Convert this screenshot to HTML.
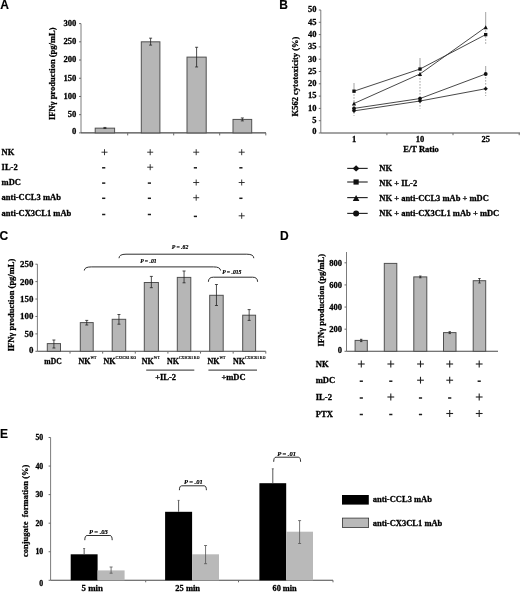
<!DOCTYPE html>
<html><head><meta charset="utf-8"><title>Figure</title>
<style>
html,body{margin:0;padding:0;background:#fff;}
body{width:520px;height:592px;overflow:hidden;font-family:"Liberation Serif",serif;}
svg{display:block;will-change:transform;}
</style></head><body>
<svg width="520" height="592" viewBox="0 0 520 592">
<rect x="0" y="0" width="520" height="592" fill="#ffffff"/>
<text x="0.20" y="8.60" font-family='"Liberation Sans", sans-serif' font-size="12" font-weight="bold" font-style="normal" text-anchor="start" fill="#000" stroke="#000" stroke-width="0.15" >A</text>
<text x="279.20" y="8.60" font-family='"Liberation Sans", sans-serif' font-size="12" font-weight="bold" font-style="normal" text-anchor="start" fill="#000" stroke="#000" stroke-width="0.15" >B</text>
<text x="-0.40" y="239.60" font-family='"Liberation Sans", sans-serif' font-size="12" font-weight="bold" font-style="normal" text-anchor="start" fill="#000" stroke="#000" stroke-width="0.15" >C</text>
<text x="280.10" y="239.70" font-family='"Liberation Sans", sans-serif' font-size="12" font-weight="bold" font-style="normal" text-anchor="start" fill="#000" stroke="#000" stroke-width="0.15" >D</text>
<text x="0.00" y="438.00" font-family='"Liberation Sans", sans-serif' font-size="12" font-weight="bold" font-style="normal" text-anchor="start" fill="#000" stroke="#000" stroke-width="0.15" >E</text>
<line x1="81.00" y1="23.60" x2="81.00" y2="132.90" stroke="#7c7c7c" stroke-width="1" />
<line x1="81.00" y1="132.90" x2="266.00" y2="132.90" stroke="#484848" stroke-width="1.1" />
<line x1="79.00" y1="132.90" x2="81.00" y2="132.90" stroke="#6a6a6a" stroke-width="1" />
<text x="76.40" y="134.30" font-family='"Liberation Serif", serif' font-size="8.6" font-weight="bold" font-style="normal" text-anchor="end" fill="#000" stroke="#000" stroke-width="0.28" >0</text>
<line x1="79.00" y1="114.68" x2="81.00" y2="114.68" stroke="#6a6a6a" stroke-width="1" />
<text x="76.40" y="117.08" font-family='"Liberation Serif", serif' font-size="8.6" font-weight="bold" font-style="normal" text-anchor="end" fill="#000" stroke="#000" stroke-width="0.28" >50</text>
<line x1="79.00" y1="96.47" x2="81.00" y2="96.47" stroke="#6a6a6a" stroke-width="1" />
<text x="76.40" y="98.87" font-family='"Liberation Serif", serif' font-size="8.6" font-weight="bold" font-style="normal" text-anchor="end" fill="#000" stroke="#000" stroke-width="0.28" >100</text>
<line x1="79.00" y1="78.25" x2="81.00" y2="78.25" stroke="#6a6a6a" stroke-width="1" />
<text x="76.40" y="80.65" font-family='"Liberation Serif", serif' font-size="8.6" font-weight="bold" font-style="normal" text-anchor="end" fill="#000" stroke="#000" stroke-width="0.28" >150</text>
<line x1="79.00" y1="60.03" x2="81.00" y2="60.03" stroke="#6a6a6a" stroke-width="1" />
<text x="76.40" y="62.43" font-family='"Liberation Serif", serif' font-size="8.6" font-weight="bold" font-style="normal" text-anchor="end" fill="#000" stroke="#000" stroke-width="0.28" >200</text>
<line x1="79.00" y1="41.82" x2="81.00" y2="41.82" stroke="#6a6a6a" stroke-width="1" />
<text x="76.40" y="44.22" font-family='"Liberation Serif", serif' font-size="8.6" font-weight="bold" font-style="normal" text-anchor="end" fill="#000" stroke="#000" stroke-width="0.28" >250</text>
<line x1="79.00" y1="23.60" x2="81.00" y2="23.60" stroke="#6a6a6a" stroke-width="1" />
<text x="76.40" y="26.00" font-family='"Liberation Serif", serif' font-size="8.6" font-weight="bold" font-style="normal" text-anchor="end" fill="#000" stroke="#000" stroke-width="0.28" >300</text>
<line x1="127.70" y1="132.90" x2="127.70" y2="135.40" stroke="#6a6a6a" stroke-width="1" />
<line x1="173.70" y1="132.90" x2="173.70" y2="135.40" stroke="#6a6a6a" stroke-width="1" />
<line x1="219.70" y1="132.90" x2="219.70" y2="135.40" stroke="#6a6a6a" stroke-width="1" />
<line x1="265.80" y1="132.90" x2="265.80" y2="135.40" stroke="#6a6a6a" stroke-width="1" />
<text x="0.00" y="0.00" font-family='"Liberation Serif", serif' font-size="8.5" font-weight="bold" font-style="normal" text-anchor="middle" fill="#000" stroke="#000" stroke-width="0.28" transform="translate(55.20,73.80) rotate(-90)">IFNγ production (pg/mL)</text>
<rect x="95.20" y="128.16" width="19.40" height="4.74" fill="#b6b6b6" stroke="#505050" stroke-width="1"/>
<line x1="104.90" y1="127.44" x2="104.90" y2="128.53" stroke="#222" stroke-width="0.8" />
<line x1="103.40" y1="127.44" x2="106.40" y2="127.44" stroke="#222" stroke-width="0.8" />
<line x1="103.40" y1="128.53" x2="106.40" y2="128.53" stroke="#222" stroke-width="0.8" />
<rect x="141.30" y="41.82" width="18.60" height="91.08" fill="#b6b6b6" stroke="#505050" stroke-width="1"/>
<line x1="150.60" y1="38.17" x2="150.60" y2="45.10" stroke="#222" stroke-width="0.8" />
<line x1="149.10" y1="38.17" x2="152.10" y2="38.17" stroke="#222" stroke-width="0.8" />
<line x1="149.10" y1="45.10" x2="152.10" y2="45.10" stroke="#222" stroke-width="0.8" />
<rect x="187.00" y="57.12" width="19.20" height="75.78" fill="#b6b6b6" stroke="#505050" stroke-width="1"/>
<line x1="196.60" y1="47.28" x2="196.60" y2="66.96" stroke="#222" stroke-width="0.8" />
<line x1="195.10" y1="47.28" x2="198.10" y2="47.28" stroke="#222" stroke-width="0.8" />
<line x1="195.10" y1="66.96" x2="198.10" y2="66.96" stroke="#222" stroke-width="0.8" />
<rect x="233.00" y="119.42" width="18.70" height="13.48" fill="#b6b6b6" stroke="#505050" stroke-width="1"/>
<line x1="242.35" y1="117.96" x2="242.35" y2="120.88" stroke="#222" stroke-width="0.8" />
<line x1="240.85" y1="117.96" x2="243.85" y2="117.96" stroke="#222" stroke-width="0.8" />
<line x1="240.85" y1="120.88" x2="243.85" y2="120.88" stroke="#222" stroke-width="0.8" />
<text x="1.60" y="154.70" font-family='"Liberation Serif", serif' font-size="8.5" font-weight="bold" font-style="normal" text-anchor="start" fill="#000" stroke="#000" stroke-width="0.28" >NK</text>
<line x1="101.50" y1="152.20" x2="107.50" y2="152.20" stroke="#222" stroke-width="0.9" />
<line x1="104.50" y1="149.20" x2="104.50" y2="155.20" stroke="#222" stroke-width="0.9" />
<line x1="147.20" y1="152.20" x2="153.20" y2="152.20" stroke="#222" stroke-width="0.9" />
<line x1="150.20" y1="149.20" x2="150.20" y2="155.20" stroke="#222" stroke-width="0.9" />
<line x1="193.20" y1="152.20" x2="199.20" y2="152.20" stroke="#222" stroke-width="0.9" />
<line x1="196.20" y1="149.20" x2="196.20" y2="155.20" stroke="#222" stroke-width="0.9" />
<line x1="238.70" y1="152.20" x2="244.70" y2="152.20" stroke="#222" stroke-width="0.9" />
<line x1="241.70" y1="149.20" x2="241.70" y2="155.20" stroke="#222" stroke-width="0.9" />
<text x="1.60" y="169.70" font-family='"Liberation Serif", serif' font-size="8.5" font-weight="bold" font-style="normal" text-anchor="start" fill="#000" stroke="#000" stroke-width="0.28" >IL-2</text>
<line x1="102.10" y1="167.80" x2="105.30" y2="167.80" stroke="#1a1a1a" stroke-width="1.5" />
<line x1="147.20" y1="167.20" x2="153.20" y2="167.20" stroke="#222" stroke-width="0.9" />
<line x1="150.20" y1="164.20" x2="150.20" y2="170.20" stroke="#222" stroke-width="0.9" />
<line x1="193.80" y1="167.80" x2="197.00" y2="167.80" stroke="#1a1a1a" stroke-width="1.5" />
<line x1="239.30" y1="167.80" x2="242.50" y2="167.80" stroke="#1a1a1a" stroke-width="1.5" />
<text x="1.60" y="185.00" font-family='"Liberation Serif", serif' font-size="8.5" font-weight="bold" font-style="normal" text-anchor="start" fill="#000" stroke="#000" stroke-width="0.28" >mDC</text>
<line x1="102.10" y1="183.10" x2="105.30" y2="183.10" stroke="#1a1a1a" stroke-width="1.5" />
<line x1="147.80" y1="183.10" x2="151.00" y2="183.10" stroke="#1a1a1a" stroke-width="1.5" />
<line x1="193.20" y1="182.50" x2="199.20" y2="182.50" stroke="#222" stroke-width="0.9" />
<line x1="196.20" y1="179.50" x2="196.20" y2="185.50" stroke="#222" stroke-width="0.9" />
<line x1="238.70" y1="182.50" x2="244.70" y2="182.50" stroke="#222" stroke-width="0.9" />
<line x1="241.70" y1="179.50" x2="241.70" y2="185.50" stroke="#222" stroke-width="0.9" />
<text x="1.60" y="200.20" font-family='"Liberation Serif", serif' font-size="8.5" font-weight="bold" font-style="normal" text-anchor="start" fill="#000" stroke="#000" stroke-width="0.28" >anti-CCL3 mAb</text>
<line x1="102.10" y1="198.30" x2="105.30" y2="198.30" stroke="#1a1a1a" stroke-width="1.5" />
<line x1="147.80" y1="198.30" x2="151.00" y2="198.30" stroke="#1a1a1a" stroke-width="1.5" />
<line x1="193.20" y1="197.70" x2="199.20" y2="197.70" stroke="#222" stroke-width="0.9" />
<line x1="196.20" y1="194.70" x2="196.20" y2="200.70" stroke="#222" stroke-width="0.9" />
<line x1="239.30" y1="198.30" x2="242.50" y2="198.30" stroke="#1a1a1a" stroke-width="1.5" />
<text x="1.60" y="215.90" font-family='"Liberation Serif", serif' font-size="8.5" font-weight="bold" font-style="normal" text-anchor="start" fill="#000" stroke="#000" stroke-width="0.28" >anti-CX3CL1 mAb</text>
<line x1="102.10" y1="214.50" x2="105.30" y2="214.50" stroke="#1a1a1a" stroke-width="1.5" />
<line x1="147.80" y1="214.50" x2="151.00" y2="214.50" stroke="#1a1a1a" stroke-width="1.5" />
<line x1="193.80" y1="216.40" x2="197.00" y2="216.40" stroke="#1a1a1a" stroke-width="1.5" />
<line x1="238.70" y1="215.80" x2="244.70" y2="215.80" stroke="#222" stroke-width="0.9" />
<line x1="241.70" y1="212.80" x2="241.70" y2="218.80" stroke="#222" stroke-width="0.9" />
<line x1="320.80" y1="10.00" x2="320.80" y2="133.00" stroke="#7c7c7c" stroke-width="1" />
<line x1="320.80" y1="133.00" x2="520.00" y2="133.00" stroke="#484848" stroke-width="1.2" />
<line x1="318.80" y1="133.00" x2="320.80" y2="133.00" stroke="#6a6a6a" stroke-width="1" />
<text x="316.50" y="134.10" font-family='"Liberation Serif", serif' font-size="8.5" font-weight="bold" font-style="normal" text-anchor="end" fill="#000" stroke="#000" stroke-width="0.28" >0</text>
<line x1="318.80" y1="120.70" x2="320.80" y2="120.70" stroke="#6a6a6a" stroke-width="1" />
<text x="316.50" y="123.00" font-family='"Liberation Serif", serif' font-size="8.5" font-weight="bold" font-style="normal" text-anchor="end" fill="#000" stroke="#000" stroke-width="0.28" >5</text>
<line x1="318.80" y1="108.40" x2="320.80" y2="108.40" stroke="#6a6a6a" stroke-width="1" />
<text x="316.50" y="110.70" font-family='"Liberation Serif", serif' font-size="8.5" font-weight="bold" font-style="normal" text-anchor="end" fill="#000" stroke="#000" stroke-width="0.28" >10</text>
<line x1="318.80" y1="96.10" x2="320.80" y2="96.10" stroke="#6a6a6a" stroke-width="1" />
<text x="316.50" y="98.40" font-family='"Liberation Serif", serif' font-size="8.5" font-weight="bold" font-style="normal" text-anchor="end" fill="#000" stroke="#000" stroke-width="0.28" >15</text>
<line x1="318.80" y1="83.80" x2="320.80" y2="83.80" stroke="#6a6a6a" stroke-width="1" />
<text x="316.50" y="86.10" font-family='"Liberation Serif", serif' font-size="8.5" font-weight="bold" font-style="normal" text-anchor="end" fill="#000" stroke="#000" stroke-width="0.28" >20</text>
<line x1="318.80" y1="71.50" x2="320.80" y2="71.50" stroke="#6a6a6a" stroke-width="1" />
<text x="316.50" y="73.80" font-family='"Liberation Serif", serif' font-size="8.5" font-weight="bold" font-style="normal" text-anchor="end" fill="#000" stroke="#000" stroke-width="0.28" >25</text>
<line x1="318.80" y1="59.20" x2="320.80" y2="59.20" stroke="#6a6a6a" stroke-width="1" />
<text x="316.50" y="61.50" font-family='"Liberation Serif", serif' font-size="8.5" font-weight="bold" font-style="normal" text-anchor="end" fill="#000" stroke="#000" stroke-width="0.28" >30</text>
<line x1="318.80" y1="46.90" x2="320.80" y2="46.90" stroke="#6a6a6a" stroke-width="1" />
<text x="316.50" y="49.20" font-family='"Liberation Serif", serif' font-size="8.5" font-weight="bold" font-style="normal" text-anchor="end" fill="#000" stroke="#000" stroke-width="0.28" >35</text>
<line x1="318.80" y1="34.60" x2="320.80" y2="34.60" stroke="#6a6a6a" stroke-width="1" />
<text x="316.50" y="36.90" font-family='"Liberation Serif", serif' font-size="8.5" font-weight="bold" font-style="normal" text-anchor="end" fill="#000" stroke="#000" stroke-width="0.28" >40</text>
<line x1="318.80" y1="22.30" x2="320.80" y2="22.30" stroke="#6a6a6a" stroke-width="1" />
<text x="316.50" y="24.60" font-family='"Liberation Serif", serif' font-size="8.5" font-weight="bold" font-style="normal" text-anchor="end" fill="#000" stroke="#000" stroke-width="0.28" >45</text>
<line x1="318.80" y1="10.00" x2="320.80" y2="10.00" stroke="#6a6a6a" stroke-width="1" />
<text x="316.50" y="12.30" font-family='"Liberation Serif", serif' font-size="8.5" font-weight="bold" font-style="normal" text-anchor="end" fill="#000" stroke="#000" stroke-width="0.28" >50</text>
<line x1="386.90" y1="133.00" x2="386.90" y2="135.20" stroke="#6a6a6a" stroke-width="1" />
<line x1="453.00" y1="133.00" x2="453.00" y2="135.20" stroke="#6a6a6a" stroke-width="1" />
<line x1="519.20" y1="133.00" x2="519.20" y2="135.20" stroke="#6a6a6a" stroke-width="1" />
<text x="0.00" y="0.00" font-family='"Liberation Serif", serif' font-size="8.5" font-weight="bold" font-style="normal" text-anchor="middle" fill="#000" stroke="#000" stroke-width="0.28" transform="translate(298.20,76.50) rotate(-90)">K562 cytotoxicity (%)</text>
<text x="354.00" y="141.50" font-family='"Liberation Serif", serif' font-size="8.5" font-weight="bold" font-style="normal" text-anchor="middle" fill="#000" stroke="#000" stroke-width="0.28" >1</text>
<text x="420.00" y="141.50" font-family='"Liberation Serif", serif' font-size="8.5" font-weight="bold" font-style="normal" text-anchor="middle" fill="#000" stroke="#000" stroke-width="0.28" >10</text>
<text x="485.70" y="141.50" font-family='"Liberation Serif", serif' font-size="8.5" font-weight="bold" font-style="normal" text-anchor="middle" fill="#000" stroke="#000" stroke-width="0.28" >25</text>
<text x="421.00" y="151.50" font-family='"Liberation Serif", serif' font-size="8.5" font-weight="bold" font-style="normal" text-anchor="middle" fill="#000" stroke="#000" stroke-width="0.28" >E/T Ratio</text>
<line x1="354.00" y1="83.00" x2="354.00" y2="91.20" stroke="#8a8a8a" stroke-width="0.8" />
<line x1="354.00" y1="91.20" x2="354.00" y2="116.00" stroke="#8a8a8a" stroke-width="0.8" stroke-dasharray="1.6 1.4"/>
<line x1="420.00" y1="58.00" x2="420.00" y2="69.00" stroke="#8a8a8a" stroke-width="0.8" />
<line x1="420.00" y1="69.00" x2="420.00" y2="108.60" stroke="#8a8a8a" stroke-width="0.8" stroke-dasharray="1.6 1.4"/>
<line x1="485.70" y1="12.00" x2="485.70" y2="27.20" stroke="#8a8a8a" stroke-width="0.8" />
<line x1="485.70" y1="27.20" x2="485.70" y2="44.60" stroke="#8a8a8a" stroke-width="0.8" stroke-dasharray="1.6 1.4"/>
<line x1="485.70" y1="66.00" x2="485.70" y2="74.00" stroke="#8a8a8a" stroke-width="0.8" />
<line x1="485.70" y1="74.00" x2="485.70" y2="96.00" stroke="#8a8a8a" stroke-width="0.8" stroke-dasharray="1.6 1.4"/>
<polyline fill="none" stroke="#333" stroke-width="0.9" points="354.00,110.86 420.00,101.02 485.70,88.72"/>
<path d="M354.00,108.81 L356.18,110.86 L354.00,112.91 L351.82,110.86 Z" fill="#111"/>
<path d="M420.00,98.97 L422.18,101.02 L420.00,103.07 L417.82,101.02 Z" fill="#111"/>
<path d="M485.70,86.67 L487.88,88.72 L485.70,90.77 L483.52,88.72 Z" fill="#111"/>
<polyline fill="none" stroke="#333" stroke-width="0.9" points="354.00,91.18 420.00,69.04 485.70,34.60"/>
<rect x="352.34" y="89.52" width="3.33" height="3.33" fill="#111"/>
<rect x="418.34" y="67.38" width="3.33" height="3.33" fill="#111"/>
<rect x="484.04" y="32.94" width="3.33" height="3.33" fill="#111"/>
<polyline fill="none" stroke="#333" stroke-width="0.9" points="354.00,103.48 420.00,73.96 485.70,27.22"/>
<path d="M354.00,101.52 L356.11,105.42 L351.89,105.42 Z" fill="#111"/>
<path d="M420.00,72.00 L422.11,75.90 L417.89,75.90 Z" fill="#111"/>
<path d="M485.70,25.26 L487.81,29.16 L483.59,29.16 Z" fill="#111"/>
<polyline fill="none" stroke="#333" stroke-width="0.9" points="354.00,108.40 420.00,98.56 485.70,73.96"/>
<circle cx="354.00" cy="108.40" r="1.92" fill="#111"/>
<circle cx="420.00" cy="98.56" r="1.92" fill="#111"/>
<circle cx="485.70" cy="73.96" r="1.92" fill="#111"/>
<line x1="347.20" y1="168.40" x2="367.70" y2="168.40" stroke="#2a2a2a" stroke-width="1.15" />
<path d="M356.10,165.20 L359.50,168.40 L356.10,171.60 L352.70,168.40 Z" fill="#111"/>
<text x="379.30" y="170.50" font-family='"Liberation Serif", serif' font-size="8.5" font-weight="bold" font-style="normal" text-anchor="start" fill="#000" stroke="#000" stroke-width="0.28" >NK</text>
<line x1="347.20" y1="182.00" x2="367.70" y2="182.00" stroke="#2a2a2a" stroke-width="1.15" />
<rect x="353.50" y="179.40" width="5.20" height="5.20" fill="#111"/>
<text x="379.30" y="185.90" font-family='"Liberation Serif", serif' font-size="8.5" font-weight="bold" font-style="normal" text-anchor="start" fill="#000" stroke="#000" stroke-width="0.28" >NK + IL-2</text>
<line x1="347.20" y1="197.60" x2="367.70" y2="197.60" stroke="#2a2a2a" stroke-width="1.15" />
<path d="M356.10,195.00 L359.40,201.10 L352.80,201.10 Z" fill="#111"/>
<text x="379.30" y="200.70" font-family='"Liberation Serif", serif' font-size="8.5" font-weight="bold" font-style="normal" text-anchor="start" fill="#000" stroke="#000" stroke-width="0.28" >NK + anti-CCL3 mAb + mDC</text>
<line x1="347.20" y1="213.40" x2="367.70" y2="213.40" stroke="#2a2a2a" stroke-width="1.15" />
<circle cx="356.10" cy="213.40" r="3.00" fill="#111"/>
<text x="379.30" y="215.70" font-family='"Liberation Serif", serif' font-size="8.5" font-weight="bold" font-style="normal" text-anchor="start" fill="#000" stroke="#000" stroke-width="0.28" >NK + anti-CX3CL1 mAb + mDC</text>
<line x1="37.40" y1="264.20" x2="37.40" y2="351.30" stroke="#7c7c7c" stroke-width="1" />
<line x1="37.40" y1="351.30" x2="265.80" y2="351.30" stroke="#484848" stroke-width="1.1" />
<line x1="265.80" y1="351.30" x2="265.80" y2="353.60" stroke="#6a6a6a" stroke-width="1" />
<line x1="35.40" y1="351.30" x2="37.40" y2="351.30" stroke="#6a6a6a" stroke-width="1" />
<text x="33.40" y="352.60" font-family='"Liberation Serif", serif' font-size="8.9" font-weight="bold" font-style="normal" text-anchor="end" fill="#000" stroke="#000" stroke-width="0.28" >0</text>
<line x1="35.40" y1="333.88" x2="37.40" y2="333.88" stroke="#6a6a6a" stroke-width="1" />
<text x="33.40" y="336.78" font-family='"Liberation Serif", serif' font-size="8.9" font-weight="bold" font-style="normal" text-anchor="end" fill="#000" stroke="#000" stroke-width="0.28" >50</text>
<line x1="35.40" y1="316.46" x2="37.40" y2="316.46" stroke="#6a6a6a" stroke-width="1" />
<text x="33.40" y="319.36" font-family='"Liberation Serif", serif' font-size="8.9" font-weight="bold" font-style="normal" text-anchor="end" fill="#000" stroke="#000" stroke-width="0.28" >100</text>
<line x1="35.40" y1="299.04" x2="37.40" y2="299.04" stroke="#6a6a6a" stroke-width="1" />
<text x="33.40" y="301.94" font-family='"Liberation Serif", serif' font-size="8.9" font-weight="bold" font-style="normal" text-anchor="end" fill="#000" stroke="#000" stroke-width="0.28" >150</text>
<line x1="35.40" y1="281.62" x2="37.40" y2="281.62" stroke="#6a6a6a" stroke-width="1" />
<text x="33.40" y="284.52" font-family='"Liberation Serif", serif' font-size="8.9" font-weight="bold" font-style="normal" text-anchor="end" fill="#000" stroke="#000" stroke-width="0.28" >200</text>
<line x1="35.40" y1="264.20" x2="37.40" y2="264.20" stroke="#6a6a6a" stroke-width="1" />
<text x="33.40" y="267.10" font-family='"Liberation Serif", serif' font-size="8.9" font-weight="bold" font-style="normal" text-anchor="end" fill="#000" stroke="#000" stroke-width="0.28" >250</text>
<line x1="70.03" y1="351.30" x2="70.03" y2="353.60" stroke="#6a6a6a" stroke-width="1" />
<line x1="102.66" y1="351.30" x2="102.66" y2="353.60" stroke="#6a6a6a" stroke-width="1" />
<line x1="135.29" y1="351.30" x2="135.29" y2="353.60" stroke="#6a6a6a" stroke-width="1" />
<line x1="167.91" y1="351.30" x2="167.91" y2="353.60" stroke="#6a6a6a" stroke-width="1" />
<line x1="200.54" y1="351.30" x2="200.54" y2="353.60" stroke="#6a6a6a" stroke-width="1" />
<line x1="233.17" y1="351.30" x2="233.17" y2="353.60" stroke="#6a6a6a" stroke-width="1" />
<text x="0.00" y="0.00" font-family='"Liberation Serif", serif' font-size="8.5" font-weight="bold" font-style="normal" text-anchor="middle" fill="#000" stroke="#000" stroke-width="0.28" transform="translate(13.60,305.00) rotate(-90)">IFNγ production (pg/mL)</text>
<rect x="47.30" y="343.60" width="13.20" height="7.70" fill="#b6b6b6" stroke="#505050" stroke-width="1"/>
<line x1="53.90" y1="340.00" x2="53.90" y2="348.00" stroke="#222" stroke-width="0.8" />
<line x1="52.40" y1="340.00" x2="55.40" y2="340.00" stroke="#222" stroke-width="0.8" />
<line x1="52.40" y1="348.00" x2="55.40" y2="348.00" stroke="#222" stroke-width="0.8" />
<rect x="80.30" y="322.60" width="12.90" height="28.70" fill="#b6b6b6" stroke="#505050" stroke-width="1"/>
<line x1="86.75" y1="320.40" x2="86.75" y2="325.00" stroke="#222" stroke-width="0.8" />
<line x1="85.25" y1="320.40" x2="88.25" y2="320.40" stroke="#222" stroke-width="0.8" />
<line x1="85.25" y1="325.00" x2="88.25" y2="325.00" stroke="#222" stroke-width="0.8" />
<rect x="112.20" y="319.30" width="13.50" height="32.00" fill="#b6b6b6" stroke="#505050" stroke-width="1"/>
<line x1="118.95" y1="314.50" x2="118.95" y2="324.20" stroke="#222" stroke-width="0.8" />
<line x1="117.45" y1="314.50" x2="120.45" y2="314.50" stroke="#222" stroke-width="0.8" />
<line x1="117.45" y1="324.20" x2="120.45" y2="324.20" stroke="#222" stroke-width="0.8" />
<rect x="144.30" y="282.50" width="14.10" height="68.80" fill="#b6b6b6" stroke="#505050" stroke-width="1"/>
<line x1="151.35" y1="276.40" x2="151.35" y2="287.70" stroke="#222" stroke-width="0.8" />
<line x1="149.85" y1="276.40" x2="152.85" y2="276.40" stroke="#222" stroke-width="0.8" />
<line x1="149.85" y1="287.70" x2="152.85" y2="287.70" stroke="#222" stroke-width="0.8" />
<rect x="177.30" y="277.40" width="13.50" height="73.90" fill="#b6b6b6" stroke="#505050" stroke-width="1"/>
<line x1="184.05" y1="271.00" x2="184.05" y2="282.80" stroke="#222" stroke-width="0.8" />
<line x1="182.55" y1="271.00" x2="185.55" y2="271.00" stroke="#222" stroke-width="0.8" />
<line x1="182.55" y1="282.80" x2="185.55" y2="282.80" stroke="#222" stroke-width="0.8" />
<rect x="209.70" y="295.30" width="13.50" height="56.00" fill="#b6b6b6" stroke="#505050" stroke-width="1"/>
<line x1="216.45" y1="284.50" x2="216.45" y2="305.50" stroke="#222" stroke-width="0.8" />
<line x1="214.95" y1="284.50" x2="217.95" y2="284.50" stroke="#222" stroke-width="0.8" />
<line x1="214.95" y1="305.50" x2="217.95" y2="305.50" stroke="#222" stroke-width="0.8" />
<rect x="242.70" y="315.20" width="12.90" height="36.10" fill="#b6b6b6" stroke="#505050" stroke-width="1"/>
<line x1="249.15" y1="309.60" x2="249.15" y2="320.40" stroke="#222" stroke-width="0.8" />
<line x1="247.65" y1="309.60" x2="250.65" y2="309.60" stroke="#222" stroke-width="0.8" />
<line x1="247.65" y1="320.40" x2="250.65" y2="320.40" stroke="#222" stroke-width="0.8" />
<text x="53.00" y="364.40" font-family='"Liberation Serif", serif' font-size="7.6" font-weight="bold" font-style="normal" text-anchor="middle" fill="#000" stroke="#000" stroke-width="0.28" >mDC</text>
<text x="78.40" y="364.40" font-family='"Liberation Serif", serif' font-size="8" font-weight="bold" fill="#000" stroke="#000" stroke-width="0.28">NK<tspan stroke-width="0.12"  font-size="3.6" dy="-5.0">WT</tspan></text>
<text x="103.60" y="364.40" font-family='"Liberation Serif", serif' font-size="8" font-weight="bold" fill="#000" stroke="#000" stroke-width="0.28">NK<tspan stroke-width="0.12"  font-size="3.6" dy="-5.0">CX3CR1 KO</tspan></text>
<text x="141.80" y="364.40" font-family='"Liberation Serif", serif' font-size="8" font-weight="bold" fill="#000" stroke="#000" stroke-width="0.28">NK<tspan stroke-width="0.12"  font-size="3.6" dy="-5.0">WT</tspan></text>
<text x="167.00" y="364.40" font-family='"Liberation Serif", serif' font-size="8" font-weight="bold" fill="#000" stroke="#000" stroke-width="0.28">NK<tspan stroke-width="0.12"  font-size="3.6" dy="-5.0">CX3CR1 KO</tspan></text>
<text x="207.50" y="364.40" font-family='"Liberation Serif", serif' font-size="8" font-weight="bold" fill="#000" stroke="#000" stroke-width="0.28">NK<tspan stroke-width="0.12"  font-size="3.6" dy="-5.0">WT</tspan></text>
<text x="233.00" y="364.40" font-family='"Liberation Serif", serif' font-size="8" font-weight="bold" fill="#000" stroke="#000" stroke-width="0.28">NK<tspan stroke-width="0.12"  font-size="3.6" dy="-5.0">CX3CR1 KO</tspan></text>
<line x1="146.20" y1="370.10" x2="194.30" y2="370.10" stroke="#2a2a2a" stroke-width="1.0" />
<line x1="208.40" y1="370.10" x2="257.00" y2="370.10" stroke="#2a2a2a" stroke-width="1.0" />
<text x="165.60" y="380.20" font-family='"Liberation Serif", serif' font-size="8.5" font-weight="bold" font-style="normal" text-anchor="middle" fill="#000" stroke="#000" stroke-width="0.28" >+IL-2</text>
<text x="233.50" y="380.20" font-family='"Liberation Serif", serif' font-size="8.5" font-weight="bold" font-style="normal" text-anchor="middle" fill="#000" stroke="#000" stroke-width="0.28" >+mDC</text>
<path d="M84.30,270.50 Q84.30,266.90 91.30,266.90 L213.50,266.90 Q220.50,266.90 220.50,270.50" fill="none" stroke="#2e2e2e" stroke-width="1.0"/>
<path d="M119.00,258.20 Q119.00,254.20 126.00,254.20 L246.80,254.20 Q253.80,254.20 253.80,258.20" fill="none" stroke="#2e2e2e" stroke-width="1.0"/>
<path d="M208.40,281.80 Q208.40,277.20 213.40,277.20 L252.60,277.20 Q257.60,277.20 257.60,281.80" fill="none" stroke="#2e2e2e" stroke-width="1.0"/>
<text x="148.40" y="262.90" font-family='"Liberation Serif", serif' font-size="5.7" font-weight="bold" font-style="italic" text-anchor="middle" fill="#000" stroke="#000" stroke-width="0.18" >P = .01</text>
<text x="180.00" y="249.10" font-family='"Liberation Serif", serif' font-size="5.7" font-weight="bold" font-style="italic" text-anchor="middle" fill="#000" stroke="#000" stroke-width="0.18" >P = .62</text>
<text x="231.80" y="274.00" font-family='"Liberation Serif", serif' font-size="5.7" font-weight="bold" font-style="italic" text-anchor="middle" fill="#000" stroke="#000" stroke-width="0.18" >P = .015</text>
<line x1="346.50" y1="252.00" x2="346.50" y2="351.30" stroke="#7c7c7c" stroke-width="1" />
<line x1="346.50" y1="351.30" x2="498.00" y2="351.30" stroke="#484848" stroke-width="1.1" />
<line x1="344.50" y1="351.30" x2="346.50" y2="351.30" stroke="#6a6a6a" stroke-width="1" />
<text x="342.00" y="352.60" font-family='"Liberation Serif", serif' font-size="8.5" font-weight="bold" font-style="normal" text-anchor="end" fill="#000" stroke="#000" stroke-width="0.28" >0</text>
<line x1="344.50" y1="329.18" x2="346.50" y2="329.18" stroke="#6a6a6a" stroke-width="1" />
<text x="342.00" y="331.88" font-family='"Liberation Serif", serif' font-size="8.5" font-weight="bold" font-style="normal" text-anchor="end" fill="#000" stroke="#000" stroke-width="0.28" >200</text>
<line x1="344.50" y1="307.05" x2="346.50" y2="307.05" stroke="#6a6a6a" stroke-width="1" />
<text x="342.00" y="309.75" font-family='"Liberation Serif", serif' font-size="8.5" font-weight="bold" font-style="normal" text-anchor="end" fill="#000" stroke="#000" stroke-width="0.28" >400</text>
<line x1="344.50" y1="284.93" x2="346.50" y2="284.93" stroke="#6a6a6a" stroke-width="1" />
<text x="342.00" y="287.62" font-family='"Liberation Serif", serif' font-size="8.5" font-weight="bold" font-style="normal" text-anchor="end" fill="#000" stroke="#000" stroke-width="0.28" >600</text>
<line x1="344.50" y1="262.80" x2="346.50" y2="262.80" stroke="#6a6a6a" stroke-width="1" />
<text x="342.00" y="265.50" font-family='"Liberation Serif", serif' font-size="8.5" font-weight="bold" font-style="normal" text-anchor="end" fill="#000" stroke="#000" stroke-width="0.28" >800</text>
<text x="0.00" y="0.00" font-family='"Liberation Serif", serif' font-size="8.5" font-weight="bold" font-style="normal" text-anchor="middle" fill="#000" stroke="#000" stroke-width="0.28" transform="translate(323.90,300.20) rotate(-90)">IFNγ production (pg/mL)</text>
<rect x="355.10" y="340.40" width="12.20" height="10.90" fill="#b6b6b6" stroke="#505050" stroke-width="1"/>
<line x1="361.20" y1="339.30" x2="361.20" y2="341.60" stroke="#222" stroke-width="0.8" />
<line x1="360.00" y1="339.30" x2="362.40" y2="339.30" stroke="#222" stroke-width="0.8" />
<line x1="360.00" y1="341.60" x2="362.40" y2="341.60" stroke="#222" stroke-width="0.8" />
<rect x="384.30" y="263.40" width="12.50" height="87.90" fill="#b6b6b6" stroke="#505050" stroke-width="1"/>
<rect x="413.80" y="276.90" width="13.00" height="74.40" fill="#b6b6b6" stroke="#505050" stroke-width="1"/>
<line x1="420.30" y1="276.00" x2="420.30" y2="277.80" stroke="#222" stroke-width="0.8" />
<line x1="419.10" y1="276.00" x2="421.50" y2="276.00" stroke="#222" stroke-width="0.8" />
<line x1="419.10" y1="277.80" x2="421.50" y2="277.80" stroke="#222" stroke-width="0.8" />
<rect x="443.50" y="332.60" width="12.50" height="18.70" fill="#b6b6b6" stroke="#505050" stroke-width="1"/>
<line x1="449.75" y1="331.70" x2="449.75" y2="333.60" stroke="#222" stroke-width="0.8" />
<line x1="448.55" y1="331.70" x2="450.95" y2="331.70" stroke="#222" stroke-width="0.8" />
<line x1="448.55" y1="333.60" x2="450.95" y2="333.60" stroke="#222" stroke-width="0.8" />
<rect x="473.20" y="280.70" width="12.50" height="70.60" fill="#b6b6b6" stroke="#505050" stroke-width="1"/>
<line x1="479.45" y1="278.50" x2="479.45" y2="283.00" stroke="#222" stroke-width="0.8" />
<line x1="478.25" y1="278.50" x2="480.65" y2="278.50" stroke="#222" stroke-width="0.8" />
<line x1="478.25" y1="283.00" x2="480.65" y2="283.00" stroke="#222" stroke-width="0.8" />
<text x="315.70" y="367.20" font-family='"Liberation Serif", serif' font-size="8.6" font-weight="bold" font-style="normal" text-anchor="start" fill="#000" stroke="#000" stroke-width="0.28" >NK</text>
<line x1="357.90" y1="364.00" x2="364.70" y2="364.00" stroke="#222" stroke-width="1.1" />
<line x1="361.30" y1="360.60" x2="361.30" y2="367.40" stroke="#222" stroke-width="1.1" />
<line x1="387.40" y1="364.00" x2="394.20" y2="364.00" stroke="#222" stroke-width="1.1" />
<line x1="390.80" y1="360.60" x2="390.80" y2="367.40" stroke="#222" stroke-width="1.1" />
<line x1="417.10" y1="364.00" x2="423.90" y2="364.00" stroke="#222" stroke-width="1.1" />
<line x1="420.50" y1="360.60" x2="420.50" y2="367.40" stroke="#222" stroke-width="1.1" />
<line x1="446.30" y1="364.00" x2="453.10" y2="364.00" stroke="#222" stroke-width="1.1" />
<line x1="449.70" y1="360.60" x2="449.70" y2="367.40" stroke="#222" stroke-width="1.1" />
<line x1="475.80" y1="364.00" x2="482.60" y2="364.00" stroke="#222" stroke-width="1.1" />
<line x1="479.20" y1="360.60" x2="479.20" y2="367.40" stroke="#222" stroke-width="1.1" />
<text x="315.70" y="383.40" font-family='"Liberation Serif", serif' font-size="8.6" font-weight="bold" font-style="normal" text-anchor="start" fill="#000" stroke="#000" stroke-width="0.28" >mDC</text>
<line x1="359.70" y1="381.20" x2="362.90" y2="381.20" stroke="#1a1a1a" stroke-width="1.5" />
<line x1="389.20" y1="381.20" x2="392.40" y2="381.20" stroke="#1a1a1a" stroke-width="1.5" />
<line x1="417.10" y1="380.20" x2="423.90" y2="380.20" stroke="#222" stroke-width="1.1" />
<line x1="420.50" y1="376.80" x2="420.50" y2="383.60" stroke="#222" stroke-width="1.1" />
<line x1="446.30" y1="380.20" x2="453.10" y2="380.20" stroke="#222" stroke-width="1.1" />
<line x1="449.70" y1="376.80" x2="449.70" y2="383.60" stroke="#222" stroke-width="1.1" />
<line x1="477.60" y1="381.20" x2="480.80" y2="381.20" stroke="#1a1a1a" stroke-width="1.5" />
<text x="315.70" y="400.20" font-family='"Liberation Serif", serif' font-size="8.6" font-weight="bold" font-style="normal" text-anchor="start" fill="#000" stroke="#000" stroke-width="0.28" >IL-2</text>
<line x1="359.70" y1="398.00" x2="362.90" y2="398.00" stroke="#1a1a1a" stroke-width="1.5" />
<line x1="387.40" y1="397.00" x2="394.20" y2="397.00" stroke="#222" stroke-width="1.1" />
<line x1="390.80" y1="393.60" x2="390.80" y2="400.40" stroke="#222" stroke-width="1.1" />
<line x1="418.90" y1="398.00" x2="422.10" y2="398.00" stroke="#1a1a1a" stroke-width="1.5" />
<line x1="448.10" y1="398.00" x2="451.30" y2="398.00" stroke="#1a1a1a" stroke-width="1.5" />
<line x1="475.80" y1="397.00" x2="482.60" y2="397.00" stroke="#222" stroke-width="1.1" />
<line x1="479.20" y1="393.60" x2="479.20" y2="400.40" stroke="#222" stroke-width="1.1" />
<text x="315.70" y="416.70" font-family='"Liberation Serif", serif' font-size="8.6" font-weight="bold" font-style="normal" text-anchor="start" fill="#000" stroke="#000" stroke-width="0.28" >PTX</text>
<line x1="359.70" y1="414.50" x2="362.90" y2="414.50" stroke="#1a1a1a" stroke-width="1.5" />
<line x1="389.20" y1="414.50" x2="392.40" y2="414.50" stroke="#1a1a1a" stroke-width="1.5" />
<line x1="418.90" y1="414.50" x2="422.10" y2="414.50" stroke="#1a1a1a" stroke-width="1.5" />
<line x1="446.30" y1="413.50" x2="453.10" y2="413.50" stroke="#222" stroke-width="1.1" />
<line x1="449.70" y1="410.10" x2="449.70" y2="416.90" stroke="#222" stroke-width="1.1" />
<line x1="475.80" y1="413.50" x2="482.60" y2="413.50" stroke="#222" stroke-width="1.1" />
<line x1="479.20" y1="410.10" x2="479.20" y2="416.90" stroke="#222" stroke-width="1.1" />
<line x1="50.60" y1="437.50" x2="50.60" y2="580.30" stroke="#7c7c7c" stroke-width="1" />
<line x1="50.60" y1="580.30" x2="333.00" y2="580.30" stroke="#484848" stroke-width="1.1" />
<line x1="333.00" y1="580.30" x2="333.00" y2="582.30" stroke="#6a6a6a" stroke-width="1" />
<line x1="48.60" y1="580.30" x2="50.60" y2="580.30" stroke="#6a6a6a" stroke-width="1" />
<text x="43.20" y="586.10" font-family='"Liberation Serif", serif' font-size="7.8" font-weight="bold" font-style="normal" text-anchor="end" fill="#000" stroke="#000" stroke-width="0.28" >0</text>
<line x1="48.60" y1="551.74" x2="50.60" y2="551.74" stroke="#6a6a6a" stroke-width="1" />
<text x="43.20" y="554.24" font-family='"Liberation Serif", serif' font-size="7.8" font-weight="bold" font-style="normal" text-anchor="end" fill="#000" stroke="#000" stroke-width="0.28" >10</text>
<line x1="48.60" y1="523.18" x2="50.60" y2="523.18" stroke="#6a6a6a" stroke-width="1" />
<text x="43.20" y="525.68" font-family='"Liberation Serif", serif' font-size="7.8" font-weight="bold" font-style="normal" text-anchor="end" fill="#000" stroke="#000" stroke-width="0.28" >20</text>
<line x1="48.60" y1="494.62" x2="50.60" y2="494.62" stroke="#6a6a6a" stroke-width="1" />
<text x="43.20" y="497.12" font-family='"Liberation Serif", serif' font-size="7.8" font-weight="bold" font-style="normal" text-anchor="end" fill="#000" stroke="#000" stroke-width="0.28" >30</text>
<line x1="48.60" y1="466.06" x2="50.60" y2="466.06" stroke="#6a6a6a" stroke-width="1" />
<text x="43.20" y="468.56" font-family='"Liberation Serif", serif' font-size="7.8" font-weight="bold" font-style="normal" text-anchor="end" fill="#000" stroke="#000" stroke-width="0.28" >40</text>
<line x1="48.60" y1="437.50" x2="50.60" y2="437.50" stroke="#6a6a6a" stroke-width="1" />
<text x="43.20" y="440.00" font-family='"Liberation Serif", serif' font-size="7.8" font-weight="bold" font-style="normal" text-anchor="end" fill="#000" stroke="#000" stroke-width="0.28" >50</text>
<line x1="145.70" y1="580.30" x2="145.70" y2="582.30" stroke="#6a6a6a" stroke-width="1" />
<line x1="238.50" y1="580.30" x2="238.50" y2="582.30" stroke="#6a6a6a" stroke-width="1" />
<text font-family='"Liberation Serif", serif' font-size="8.5" font-weight="bold" text-anchor="middle" fill="#000" stroke="#000" stroke-width="0.28" transform="translate(27.6,510.8) rotate(-90)" xml:space="preserve">conjugate  formation (%)</text>
<rect x="70.70" y="554.30" width="26.90" height="26.00" fill="#000" />
<rect x="97.60" y="570.40" width="27.00" height="9.90" fill="#b9b9b9" />
<line x1="84.15" y1="548.50" x2="84.15" y2="554.30" stroke="#444" stroke-width="0.9" />
<line x1="83.15" y1="548.50" x2="85.15" y2="548.50" stroke="#555" stroke-width="0.8" />
<line x1="111.10" y1="567.00" x2="111.10" y2="573.20" stroke="#555" stroke-width="0.8" />
<line x1="109.60" y1="567.00" x2="112.60" y2="567.00" stroke="#555" stroke-width="0.8" />
<line x1="109.60" y1="573.20" x2="112.60" y2="573.20" stroke="#555" stroke-width="0.8" />
<rect x="165.10" y="511.80" width="27.00" height="68.50" fill="#000" />
<rect x="192.10" y="554.30" width="26.90" height="26.00" fill="#b9b9b9" />
<line x1="178.60" y1="500.40" x2="178.60" y2="511.80" stroke="#444" stroke-width="0.9" />
<line x1="177.60" y1="500.40" x2="179.60" y2="500.40" stroke="#555" stroke-width="0.8" />
<line x1="205.55" y1="545.50" x2="205.55" y2="563.70" stroke="#555" stroke-width="0.8" />
<line x1="204.05" y1="545.50" x2="207.05" y2="545.50" stroke="#555" stroke-width="0.8" />
<line x1="204.05" y1="563.70" x2="207.05" y2="563.70" stroke="#555" stroke-width="0.8" />
<rect x="259.40" y="483.20" width="26.80" height="97.10" fill="#000" />
<rect x="286.20" y="531.70" width="26.80" height="48.60" fill="#b9b9b9" />
<line x1="272.80" y1="468.80" x2="272.80" y2="483.20" stroke="#444" stroke-width="0.9" />
<line x1="271.80" y1="468.80" x2="273.80" y2="468.80" stroke="#555" stroke-width="0.8" />
<line x1="299.60" y1="520.60" x2="299.60" y2="543.50" stroke="#555" stroke-width="0.8" />
<line x1="298.10" y1="520.60" x2="301.10" y2="520.60" stroke="#555" stroke-width="0.8" />
<line x1="298.10" y1="543.50" x2="301.10" y2="543.50" stroke="#555" stroke-width="0.8" />
<text x="92.30" y="591.30" font-family='"Liberation Serif", serif' font-size="8.9" font-weight="bold" font-style="normal" text-anchor="middle" fill="#000" stroke="#000" stroke-width="0.28" >5 min</text>
<text x="187.70" y="591.30" font-family='"Liberation Serif", serif' font-size="8.5" font-weight="bold" font-style="normal" text-anchor="middle" fill="#000" stroke="#000" stroke-width="0.28" >25 min</text>
<text x="284.60" y="591.30" font-family='"Liberation Serif", serif' font-size="8.3" font-weight="bold" font-style="normal" text-anchor="middle" fill="#000" stroke="#000" stroke-width="0.28" >60 min</text>
<path d="M84.80,540.20 Q84.80,535.50 87.10,535.50 L109.90,535.50 Q112.20,535.50 112.20,540.20" fill="none" stroke="#2e2e2e" stroke-width="1.0"/>
<path d="M179.40,490.20 Q179.40,485.80 181.70,485.80 L204.10,485.80 Q206.40,485.80 206.40,490.20" fill="none" stroke="#2e2e2e" stroke-width="1.0"/>
<path d="M273.70,461.80 Q273.70,457.20 276.00,457.20 L298.30,457.20 Q300.60,457.20 300.60,461.80" fill="none" stroke="#2e2e2e" stroke-width="1.0"/>
<text x="98.40" y="533.90" font-family='"Liberation Serif", serif' font-size="6.5" font-weight="bold" font-style="italic" text-anchor="middle" fill="#000" stroke="#000" stroke-width="0.18" >P = .03</text>
<text x="193.30" y="484.20" font-family='"Liberation Serif", serif' font-size="6.5" font-weight="bold" font-style="italic" text-anchor="middle" fill="#000" stroke="#000" stroke-width="0.18" >P = .01</text>
<text x="286.60" y="455.60" font-family='"Liberation Serif", serif' font-size="6.5" font-weight="bold" font-style="italic" text-anchor="middle" fill="#000" stroke="#000" stroke-width="0.18" >P = .01</text>
<rect x="342.00" y="495.00" width="26.80" height="9.60" fill="#000" />
<rect x="342.40" y="518.10" width="26.20" height="9.40" fill="#b9b9b9" stroke="#333" stroke-width="0.8"/>
<text x="372.70" y="502.40" font-family='"Liberation Serif", serif' font-size="8.5" font-weight="bold" font-style="normal" text-anchor="start" fill="#000" stroke="#000" stroke-width="0.28" >anti-CCL3 mAb</text>
<text x="372.70" y="525.50" font-family='"Liberation Serif", serif' font-size="8.5" font-weight="bold" font-style="normal" text-anchor="start" fill="#000" stroke="#000" stroke-width="0.28" >anti-CX3CL1 mAb</text>
</svg>
</body></html>
